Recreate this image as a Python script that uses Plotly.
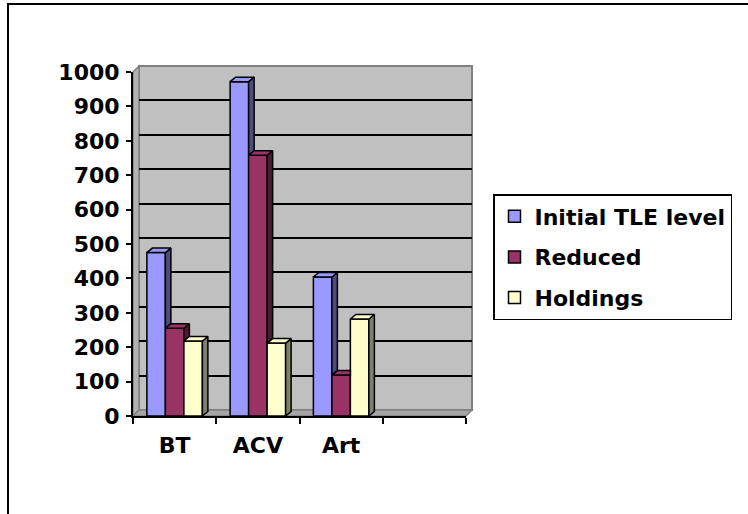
import plotly.graph_objects as go

# ---- data ----
categories = ["BT", "ACV", "Art"]
series_names = ["Initial TLE level", "Reduced", "Holdings"]
initial_tle = [475, 972, 404]
reduced = [255, 758, 119]
holdings = [218, 212, 282]
y_tick_values = list(range(0, 1001, 100))

series_values = [initial_tle, reduced, holdings]
front_colors = ["#9999FF", "#993366", "#FFFFCC"]
side_colors = ["#4D4D80", "#4D1A33", "#80806A"]

# ---- geometry (pixels) ----
W, H = 748, 514
L, R, T, B = 133, 276, 66, 98
plot_w = W - L - R
plot_h = H - T - B
WALL_DX, WALL_DY = 6, 6      # depth of the walls
BAR_DX, BAR_DY = 5.5, 4.5    # depth of each column
EDGE = 1.5                   # outline width of the columns

n_slots = 4                  # three categories plus one empty slot
x_range = [-0.5, n_slots - 0.5]
y_range = [0, 1000]
front_w = plot_w - WALL_DX
front_h = plot_h - WALL_DY
px_per_x = front_w / n_slots
px_per_y = front_h / (y_range[1] - y_range[0])
ddx = BAR_DX / px_per_x
ddy = BAR_DY / px_per_y

group_span = 2 / 3
bar_w = group_span / len(series_names)

FONT = dict(family="DejaVu Sans", size=22, color="black", weight="bold")

fig = go.Figure()

# placeholder so the back-wall subplot (grid) is rendered
fig.add_trace(go.Scatter(x=[None], y=[None], xaxis="x", yaxis="y",
                         showlegend=False, hoverinfo="skip"))

# front faces of the columns
for i, (name, vals) in enumerate(zip(series_names, series_values)):
    fig.add_trace(go.Bar(
        x=list(range(len(categories))), y=vals, name=name,
        width=bar_w, offset=-group_span / 2 + i * bar_w,
        marker=dict(color=front_colors[i], line=dict(color="black", width=EDGE)),
        xaxis="x2", yaxis="y2", legendgroup=name, hoverinfo="skip",
    ))

# top and side faces, trimmed where the neighbouring column hides them
for i, vals in enumerate(series_values):
    top_x, top_y, side_x, side_y = [], [], [], []
    for c, v in enumerate(vals):
        xl = c - group_span / 2 + i * bar_w
        xr = xl + bar_w
        nxt = series_values[i + 1][c] if i + 1 < len(series_values) else None
        if nxt is not None and nxt >= v + ddy:
            top_x += [xl, xr, xr, xl + ddx, xl, None]
            top_y += [v, v, v + ddy, v + ddy, v, None]
        else:
            cut = v if nxt is None else max(nxt, v)
            s = (cut - v) / ddy
            top_x += [xl, xr, xr, xr + s * ddx, xr + ddx, xl + ddx, xl, None]
            top_y += [v, v, cut, cut, v + ddy, v + ddy, v, None]
        base = 0 if nxt is None else nxt
        if base < v:
            side_x += [xr, xr, xr + ddx, xr + ddx, xr, None]
            side_y += [base, v, v + ddy, base + ddy, base, None]
    fig.add_trace(go.Scatter(
        x=side_x, y=side_y, mode="lines", fill="toself",
        fillcolor=side_colors[i], line=dict(color="black", width=EDGE),
        xaxis="x2", yaxis="y2", showlegend=False, hoverinfo="skip",
    ))
    fig.add_trace(go.Scatter(
        x=top_x, y=top_y, mode="lines", fill="toself",
        fillcolor=front_colors[i], line=dict(color="black", width=EDGE),
        xaxis="x2", yaxis="y2", showlegend=False, hoverinfo="skip",
    ))

# walls and floor
wx, wy = WALL_DX / plot_w, WALL_DY / plot_h
fx, fy = front_w / plot_w, front_h / plot_h
shapes = [
    dict(type="rect", xref="x domain", yref="y domain", x0=0, x1=1, y0=0, y1=1,
         fillcolor="#C0C0C0", line=dict(color="#808080", width=2), layer="below"),
    dict(type="path", xref="paper", yref="paper",
         path=f"M 0 0 L 0 {fy} L {wx} 1 L {wx} {wy} Z",
         fillcolor="#B2B2B2", line=dict(color="#808080", width=1.5), layer="below"),
    dict(type="path", xref="paper", yref="paper",
         path=f"M 0 0 L {fx} 0 L 1 {wy} L {wx} {wy} Z",
         fillcolor="#A6A6A6", line=dict(color="#808080", width=1.5), layer="below"),
    # chart frame
    dict(type="rect", xref="paper", yref="paper",
         x0=(8 - L) / plot_w, x1=(W + 10 - L) / plot_w,
         y0=-(B + 10) / plot_h, y1=(plot_h + T - 4) / plot_h,
         line=dict(color="black", width=2), fillcolor="rgba(0,0,0,0)", layer="above"),
]

fig.update_layout(
    width=W, height=H,
    margin=dict(l=L, r=R, t=T, b=B, pad=0),
    paper_bgcolor="white", plot_bgcolor="rgba(0,0,0,0)",
    barmode="overlay",
    font=FONT,
    shapes=shapes,
    showlegend=True,
    legend=dict(
        x=(493 - L) / plot_w, y=(plot_h + T - 194) / plot_h,
        xanchor="left", yanchor="top",
        bordercolor="black", borderwidth=1.5, bgcolor="white",
        font=FONT, tracegroupgap=9, traceorder="grouped",
    ),
    # back wall (grid)
    xaxis=dict(domain=[wx, 1], range=x_range, anchor="y", visible=False),
    yaxis=dict(domain=[wy, 1], range=y_range, anchor="x",
               tickmode="array", tickvals=y_tick_values[1:-1],
               showgrid=True, gridcolor="black", gridwidth=1.5,
               showticklabels=False, ticks="", showline=False, zeroline=False),
    # front axes
    xaxis2=dict(domain=[0, fx], range=x_range, anchor="y2",
                tickmode="array", tickvals=list(range(len(categories))),
                ticktext=categories, ticks="", showgrid=False, zeroline=False,
                showline=True, linecolor="black", linewidth=2,
                minor=dict(tickmode="array",
                           tickvals=[k - 0.5 for k in range(n_slots + 1)],
                           ticks="outside", ticklen=6, tickwidth=2,
                           tickcolor="black", showgrid=False),
                tickfont=FONT, ticklabelstandoff=9),
    yaxis2=dict(domain=[0, fy], range=y_range, anchor="x2",
                tickmode="array", tickvals=y_tick_values,
                ticks="outside", ticklen=5, tickwidth=2, tickcolor="black",
                showline=True, linecolor="black", linewidth=2,
                showgrid=False, zeroline=False,
                tickfont=FONT, ticklabelstandoff=2),
)

fig.write_html("out.html")
